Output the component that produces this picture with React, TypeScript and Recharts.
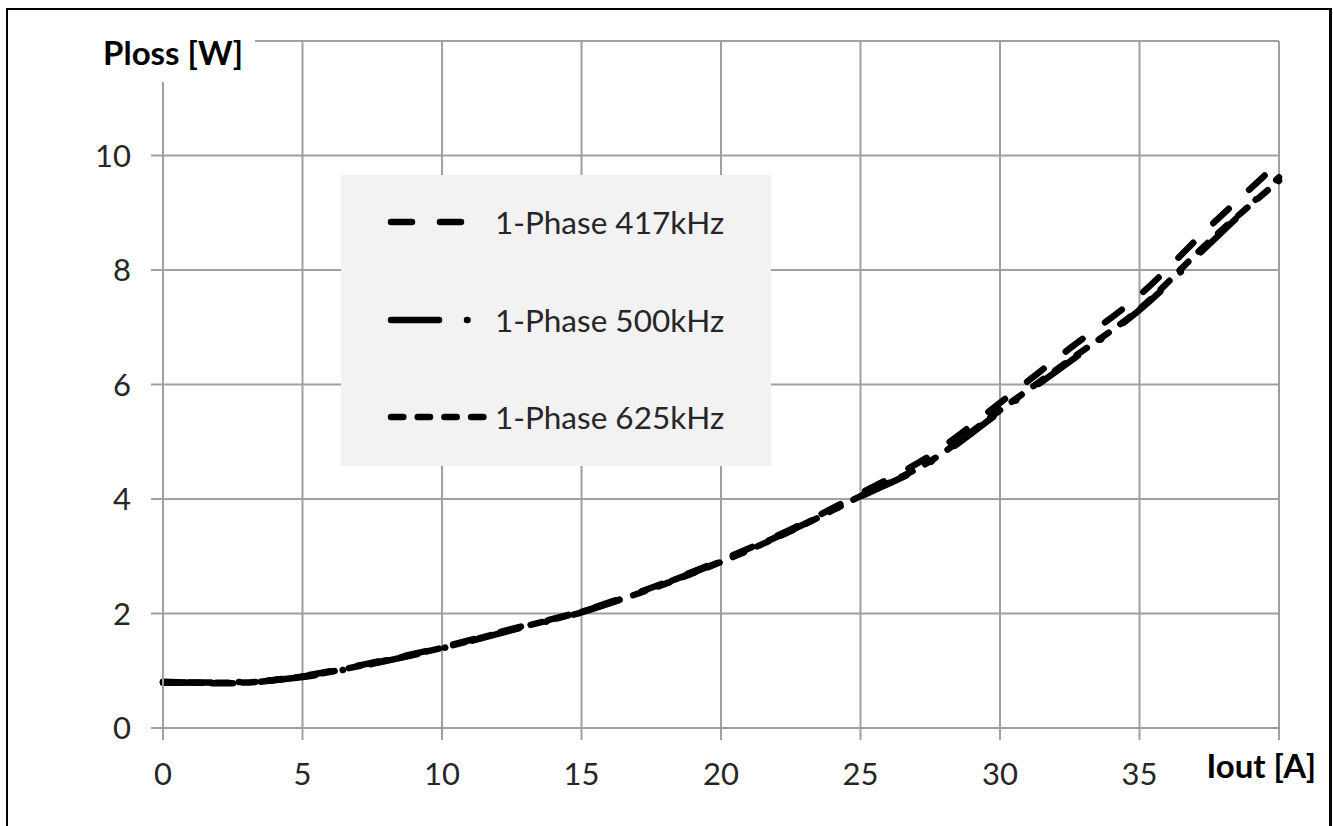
import React from 'react';
import { LineChart, Line, XAxis, YAxis, CartesianGrid, Legend } from 'recharts';

const xValues = [0, 2.5, 5, 7.5, 10, 12.5, 15, 17.5, 20, 22.5, 25, 27.5, 30, 32.5, 35, 37.5, 40];
const p417 = [0.81, 0.78, 0.91, 1.14, 1.41, 1.73, 2.04, 2.45, 2.93, 3.47, 4.1, 4.76, 5.68, 6.63, 7.56, 8.75, 9.88];
const p500 = [0.79, 0.8, 0.89, 1.12, 1.39, 1.71, 2.02, 2.44, 2.91, 3.45, 4.04, 4.64, 5.52, 6.4, 7.3, 8.45, 9.62];
const p625 = [0.8, 0.79, 0.9, 1.13, 1.4, 1.72, 2.03, 2.43, 2.9, 3.44, 4.05, 4.66, 5.55, 6.43, 7.32, 8.5, 9.56];

const xTicks = [0, 5, 10, 15, 20, 25, 30, 35, 40];
const yTicks = [0, 2, 4, 6, 8, 10, 12];
const seriesNames = ['1-Phase 417kHz', '1-Phase 500kHz', '1-Phase 625kHz'];
const seriesKeys = ['p417', 'p500', 'p625'];
const yTitle = 'Ploss [W]';
const xTitle = 'Iout [A]';

const data = xValues.map((x, i) => ({ x, p417: p417[i], p500: p500[i], p625: p625[i] }));

const dashes = ['21 28', '48 28 0.5 28', '12.3 14.4'];
const LINE_W = 6.5;
const GRID = '#a0a0a0';
const FONT = 'Lato, "Open Sans", sans-serif';

const YTitle = (props: any) => {
  const vb = props.viewBox || { x: 0, y: 0, width: 0 };
  const right = vb.x + vb.width;
  return (
    <g>
      <rect x={right - 75} y={vb.y - 12} width={167} height={53} fill="#ffffff" />
      <text x={right + 80} y={vb.y + 24} textAnchor="end" fontFamily={FONT} fontWeight={700} fontSize={33} fill="#000">
        {yTitle}
      </text>
    </g>
  );
};

const XTitle = (props: any) => {
  const vb = props.viewBox || { x: 0, y: 0, width: 0 };
  return (
    <text x={vb.x + vb.width + 37} y={vb.y + 50} textAnchor="end" fontFamily={FONT} fontWeight={700} fontSize={33} fill="#000">
      {xTitle}
    </text>
  );
};

const LegendBox = () => {
  const rowCenters = [47, 145, 242];
  return (
    <div style={{ width: '100%', height: '100%', background: '#f2f2f2', position: 'relative' }}>
      {seriesNames.map((name, i) => (
        <div key={name} style={{ position: 'absolute', left: 0, top: rowCenters[i] - 20, height: 40, width: '100%' }}>
          <svg width={106} height={40} style={{ position: 'absolute', left: 44, top: 0 }}>
            <line x1={6} y1={20} x2={100} y2={20} stroke="#000" strokeWidth={LINE_W} strokeLinecap="round" strokeDasharray={dashes[i]} />
          </svg>
          <div style={{ position: 'absolute', left: 154, top: 0, height: 40, lineHeight: '40px', fontFamily: FONT, fontSize: 31.5, color: '#262626', whiteSpace: 'nowrap' }}>
            {name}
          </div>
        </div>
      ))}
    </div>
  );
};

export default function App() {
  return (
    <div style={{ position: 'absolute', left: 0, top: 0, width: 1333, height: 826, background: '#fff', overflow: 'hidden' }}>
      <div style={{ position: 'absolute', left: 6, top: 8, width: 1326, height: 818, boxSizing: 'border-box', borderTop: '2px solid #000', borderLeft: '2px solid #000', borderRight: '3px solid #000', borderBottom: 'none' }} />
      <div style={{ position: 'absolute', left: 0, top: 0 }}>
        <LineChart width={1333} height={826} data={data} margin={{ top: 41, right: 54, bottom: 0, left: 0 }}>
          <CartesianGrid stroke={GRID} strokeWidth={2} />
          <XAxis
            type="number"
            dataKey="x"
            domain={[0, 40]}
            ticks={xTicks}
            height={98}
            interval={0}
            tickSize={12}
            tickMargin={23}
            stroke={GRID}
            strokeWidth={2}
            tickFormatter={(v: number) => (v === 40 ? '' : String(v))}
            tick={{ fontFamily: FONT, fontSize: 31, fill: '#262626' }}
            label={<XTitle />}
          />
          <YAxis
            type="number"
            domain={[0, 12]}
            ticks={yTicks}
            width={163}
            interval={0}
            tickSize={12}
            tickMargin={20}
            stroke={GRID}
            strokeWidth={2}
            tickFormatter={(v: number) => (v === 12 ? '' : String(v))}
            tick={{ fontFamily: FONT, fontSize: 31, fill: '#262626' }}
            label={<YTitle />}
          />
          <Legend
            layout="vertical"
            align="center"
            verticalAlign="middle"
            content={<LegendBox />}
            wrapperStyle={{ left: 341, top: 175, width: 430, height: 291, bottom: 'auto', right: 'auto' }}
          />
          {seriesKeys.map((k, i) => (
            <Line
              key={k}
              type="monotone"
              dataKey={k}
              name={seriesNames[i]}
              stroke="#000"
              strokeWidth={LINE_W}
              strokeLinecap="round"
              strokeDasharray={dashes[i]}
              dot={false}
              activeDot={false}
              isAnimationActive={false}
            />
          ))}
        </LineChart>
      </div>
    </div>
  );
}
